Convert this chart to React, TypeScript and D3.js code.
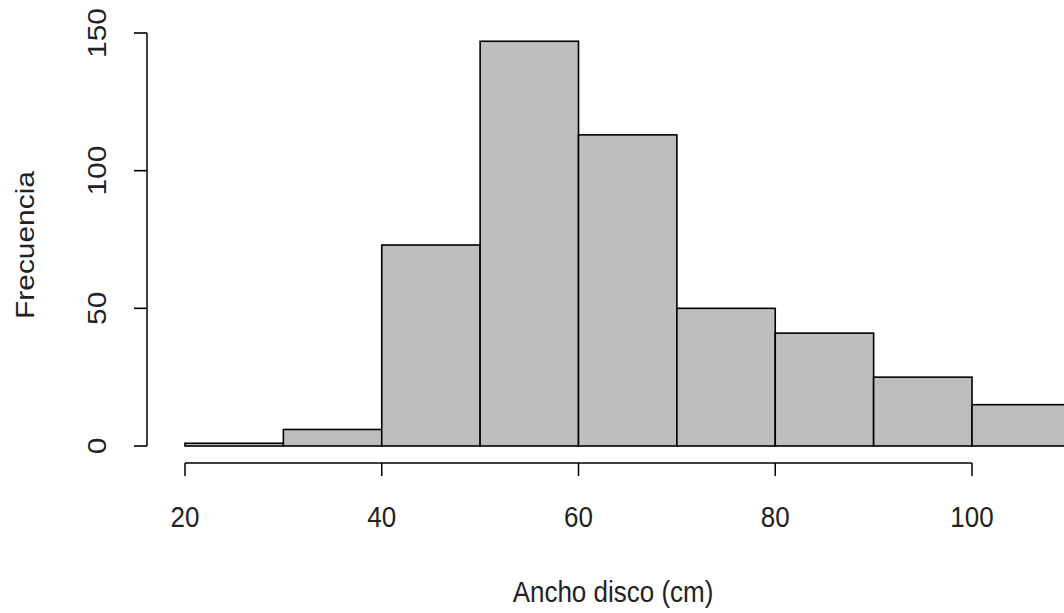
import React from "react";
import * as d3 from "d3";

const binStarts: number[] = [20, 30, 40, 50, 60, 70, 80, 90, 100];
const binWidth = 10;
const counts: number[] = [1, 6, 73, 147, 113, 50, 41, 25, 15];
const xTicks: number[] = [20, 40, 60, 80, 100];
const yTicks: number[] = [0, 50, 100, 150];
const xLabel = "Ancho disco (cm)";
const yLabel = "Frecuencia";

const W = 1064;
const H = 613;
const FONT = "'Liberation Sans', Arial, sans-serif";
const SY = 1.15;

export default function App() {
  const x = d3.scaleLinear().domain([20, 100]).range([185, 972]);
  const y = d3.scaleLinear().domain([0, 150]).range([446, 33]);
  const axisY = 463;
  const axisX = 147;
  const tickLen = 13;

  return (
    <svg
      width={W}
      height={H}
      style={{ position: "absolute", left: 0, top: 0, background: "#fff" }}
      fontFamily={FONT}
    >
      {binStarts.map((b, i) => (
        <rect
          key={b}
          x={x(b)}
          y={y(counts[i])}
          width={x(b + binWidth) - x(b)}
          height={y(0) - y(counts[i])}
          fill="#bebebe"
          stroke="#000"
          strokeWidth={1.6}
        />
      ))}
      {/* x axis */}
      <line x1={x(xTicks[0])} x2={x(xTicks[xTicks.length - 1])} y1={axisY} y2={axisY} stroke="#000" strokeWidth={1.6} />
      {xTicks.map((t) => (
        <g key={t}>
          <line x1={x(t)} x2={x(t)} y1={axisY} y2={axisY + tickLen} stroke="#000" strokeWidth={1.5} />
          <text
            transform={`translate(${x(t)},517) scale(1,${SY})`}
            textAnchor="middle"
            dominantBaseline="central"
            fontSize={26}
            fill="#222"
          >
            {t}
          </text>
        </g>
      ))}
      <text
        transform={`translate(613,592) scale(1,${SY})`}
        textAnchor="middle"
        dominantBaseline="central"
        fontSize={26}
        fill="#222"
      >
        {xLabel}
      </text>
      {/* y axis */}
      <line x1={axisX} x2={axisX} y1={y(yTicks[0])} y2={y(yTicks[yTicks.length - 1])} stroke="#000" strokeWidth={1.5} />
      {yTicks.map((t) => (
        <g key={t}>
          <line x1={axisX - tickLen} x2={axisX} y1={y(t)} y2={y(t)} stroke="#000" strokeWidth={1.6} />
          <text
            transform={`translate(97,${y(t)}) scale(1,${SY}) rotate(-90)`}
            textAnchor="middle"
            dominantBaseline="central"
            fontSize={26}
            fill="#222"
          >
            {t}
          </text>
        </g>
      ))}
      <text
        transform={`translate(25,245) scale(1,${SY}) rotate(-90)`}
        textAnchor="middle"
        dominantBaseline="central"
        fontSize={26}
        fill="#222"
      >
        {yLabel}
      </text>
    </svg>
  );
}
